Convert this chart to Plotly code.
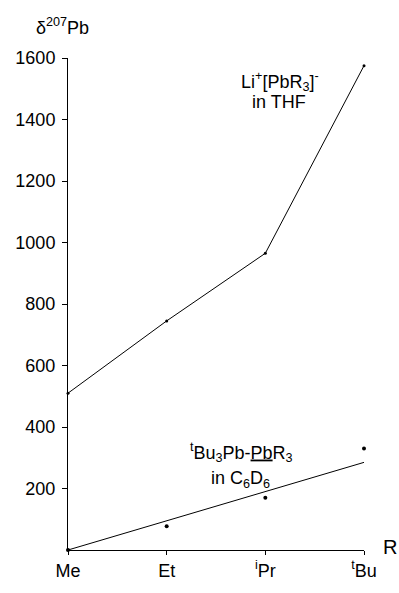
import plotly.graph_objects as go

categories = ["Me", "Et", "iPr", "tBu"]
cat_labels = ["Me", "Et", "<sup>i</sup>Pr", "<sup>t</sup>Bu"]
x_pos = [0, 1, 2, 3]

li_values = [510, 745, 965, 1575]
dimer_values = [0, 77, 170, 330]
fit_x = [0, 3]
fit_values = [0, 285]

y_ticks = [200, 400, 600, 800, 1000, 1200, 1400, 1600]

FONT = "Liberation Sans, Arial, sans-serif"

fig = go.Figure()
fig.add_trace(go.Scatter(x=x_pos, y=li_values, mode="lines+markers",
                         line=dict(color="black", width=1),
                         marker=dict(color="black", size=3),
                         showlegend=False, cliponaxis=False))
fig.add_trace(go.Scatter(x=fit_x, y=fit_values, mode="lines",
                         line=dict(color="black", width=1),
                         showlegend=False, cliponaxis=False))
fig.add_trace(go.Scatter(x=x_pos, y=dimer_values, mode="markers",
                         marker=dict(color="black", size=4),
                         showlegend=False, cliponaxis=False))


def label(text, x, y):
    return dict(text=text, xref="x", yref="y", x=x, y=y, xanchor="center",
                yanchor="middle", showarrow=False, font=dict(size=18))


fig.update_layout(
    width=399, height=593,
    margin=dict(l=68, r=35, t=58, b=35),
    paper_bgcolor="white", plot_bgcolor="white",
    font=dict(family=FONT, size=18, color="black"),
    xaxis=dict(range=[0, 3], tickvals=x_pos, ticktext=cat_labels,
               showgrid=False, zeroline=False, showline=True,
               linecolor="black", linewidth=1, ticks="outside",
               ticklen=4, tickcolor="black", tickfont=dict(size=18)),
    yaxis=dict(range=[0, 1600], tickvals=y_ticks,
               showgrid=False, zeroline=False, showline=True,
               linecolor="black", linewidth=1, ticks="outside",
               ticklen=5, tickcolor="black", tickfont=dict(size=18),
               ticklabelstandoff=3),
    annotations=[
        dict(text="δ<sup>207</sup>Pb", xref="paper", yref="paper",
             x=-0.017, y=1.0, yshift=32, xanchor="center", yanchor="middle",
             showarrow=False, font=dict(size=18)),
        dict(text="R", xref="paper", yref="paper", x=1.0, xshift=26,
             y=0.0, yshift=3, xanchor="center", yanchor="middle",
             showarrow=False, font=dict(size=20)),
        label("Li<sup>+</sup>[PbR<sub>3</sub>]<sup>-</sup>", 2.15, 1525),
        label("in THF", 2.14, 1458),
        label("<sup>t</sup>Bu<sub>3</sub>Pb-<u>Pb</u>R<sub>3</sub>", 1.76, 318),
        label("in C<sub>6</sub>D<sub>6</sub>", 1.75, 230),
    ],
)

fig.write_html("out.html")
